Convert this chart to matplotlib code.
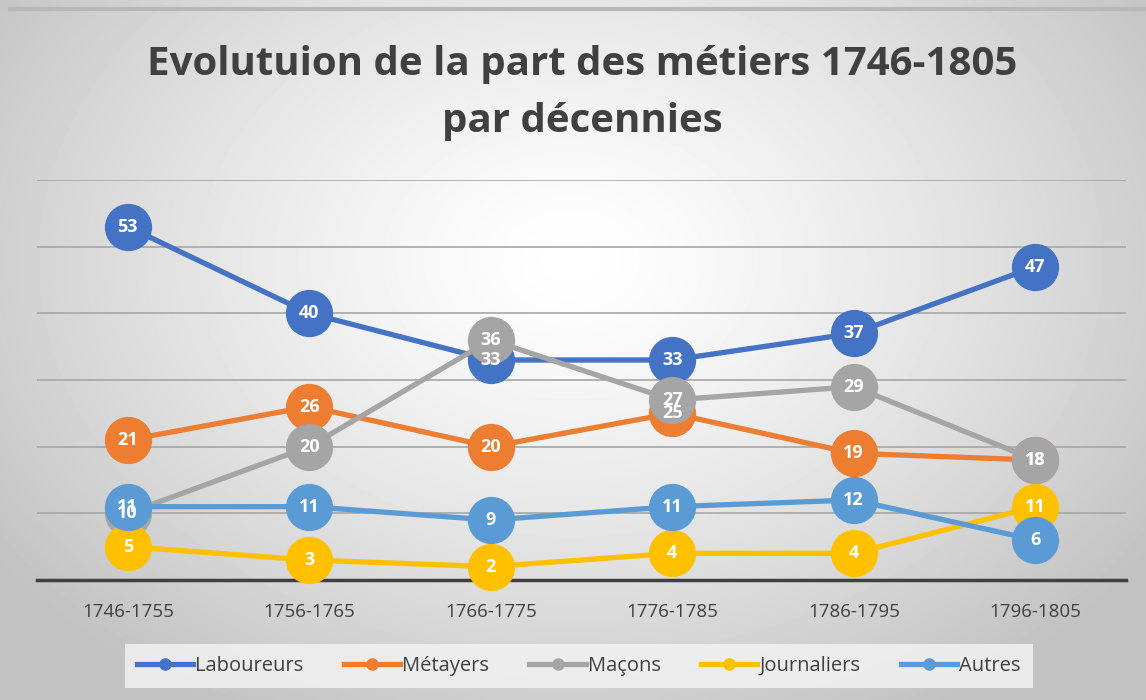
import numpy as np
import matplotlib.pyplot as plt

decennies = ['1746-1755', '1756-1765', '1766-1775', '1776-1785', '1786-1795', '1796-1805']
laboureurs = [53, 40, 33, 33, 37, 47]
metayers = [21, 26, 20, 25, 19, 18]
macons = [10, 20, 36, 27, 29, 18]
journaliers = [5, 3, 2, 4, 4, 11]
autres = [11, 11, 9, 11, 12, 6]

series = [
    ('Laboureurs', laboureurs, '#4472C4'),
    ('Métayers', metayers, '#ED7D31'),
    ('Maçons', macons, '#A5A5A5'),
    ('Journaliers', journaliers, '#FFC000'),
    ('Autres', autres, '#5B9BD5'),
]

plt.rcParams['font.family'] = ['Open Sans', 'DejaVu Sans']

fig = plt.figure(figsize=(11.46, 7), dpi=100)

# radial gradient background
bg = fig.add_axes([0, 0, 1, 1], zorder=-10)
yy, xx = np.mgrid[0:700, 0:1146]
r = np.sqrt(((xx - 570) / 700.0) ** 2 + ((yy - 260) / 520.0) ** 2)
shade = 1.0 - 0.24 * np.clip(r, 0, 1) ** 1.3
bg.imshow(shade, cmap='gray', vmin=0, vmax=1, extent=[0, 1146, 700, 0], aspect='auto')
bg.plot([10, 1146], [9, 9], color='#b8b8b8', lw=3)
bg.set_xlim(0, 1146)
bg.set_ylim(700, 0)
bg.axis('off')

ax = fig.add_axes([37 / 1146, 120 / 700, 1089 / 1146, 400 / 700])
ax.patch.set_alpha(0)
x = np.arange(len(decennies))

for i, (name, vals, col) in enumerate(series):
    ax.plot(x, vals, color=col, lw=3.8, marker='o', markersize=33,
            solid_capstyle='round', label=name, zorder=3 + i, clip_on=False)

for name, vals, col in series:
    for xi, v in zip(x, vals):
        ax.text(xi, v, f'{v:.0f}', ha='center', va='center', color='white',
                fontsize=13, fontweight='bold', zorder=20)

ax.set_xlim(-0.5, len(decennies) - 0.5)
ax.set_ylim(0, 60)
ax.set_yticks(np.arange(10, 61, 10))
ax.yaxis.grid(True, color='#a6a6a6', lw=1.2)
ax.set_axisbelow(True)
ax.tick_params(axis='y', left=False, labelleft=False)
ax.tick_params(axis='x', bottom=False, labelsize=13.5, labelcolor='#404040', pad=13)
ax.set_xticks(x)
ax.set_xticklabels(decennies)
for s in ['top', 'right', 'left']:
    ax.spines[s].set_visible(False)
ax.spines['bottom'].set_color('#404040')
ax.spines['bottom'].set_linewidth(2.5)

fig.text(0.508, 0.867, 'Evolutuion de la part des métiers 1746-1805\npar décennies',
         ha='center', va='center', fontsize=29, fontweight='bold', color='#404040',
         linespacing=1.6)

handles = [plt.Line2D([], [], color=c, lw=3.8, marker='o', markersize=8) for _, _, c in series]
leg = fig.legend(handles, [n for n, _, _ in series], loc='center', bbox_to_anchor=(0.505, 0.049),
                 ncol=5, frameon=True, fontsize=14.5, handlelength=2.8, handletextpad=0.1,
                 columnspacing=2.0, fancybox=False, borderpad=0.6)
leg.get_frame().set_facecolor('#f2f2f2')
leg.get_frame().set_edgecolor('none')
leg.get_frame().set_alpha(0.85)
for t in leg.get_texts():
    t.set_color('#404040')

fig.savefig('out.png', dpi=100)
